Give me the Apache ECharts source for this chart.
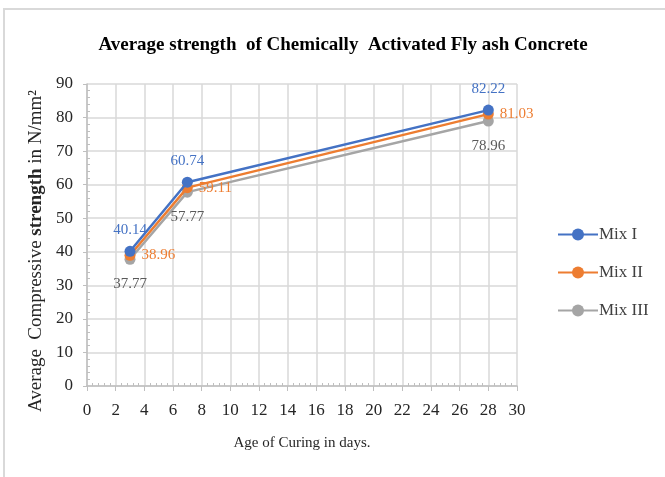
<!DOCTYPE html>
<html><head><meta charset="utf-8">
<script src="https://cdn.jsdelivr.net/npm/echarts@6/dist/echarts.min.js"></script>
<style>html,body{margin:0;padding:0;background:#fff}#c{width:665px;height:477px}</style>
</head><body><div id="c"></div>
<script>
const days = [3, 7, 28];
const mix1 = [40.14, 60.74, 82.22];
const mix2 = [38.96, 59.11, 81.03];
const mix3 = [37.77, 57.77, 78.96];
const seriesNames = ['Mix I', 'Mix II', 'Mix III'];
const colors = ['#4472C4', '#ED7D31', '#A5A5A5'];

const F = '"Liberation Serif", "Times New Roman", serif';
const chart = echarts.init(document.getElementById('c'));
function pts(v){ return days.map((d,i)=>[d, v[i]]); }
const labelPos = ['top', 'right', 'bottom'];
const labelDist = [8, 6, 12];
const labelColors = ['#4472C4', '#ED7D31', '#595959'];
chart.setOption({
  animation: false,
  graphic: [
    {type:'line', shape:{x1:3,y1:9,x2:665,y2:9}, style:{stroke:'#d9d9d9', lineWidth:2}},
    {type:'line', shape:{x1:4,y1:9,x2:4,y2:477}, style:{stroke:'#d9d9d9', lineWidth:2}}
  ],
  title: {
    text: 'Average strength  of Chemically  Activated Fly ash Concrete',
    left: 338, top: 31, textAlign: 'center',
    textStyle: {fontFamily: F, fontWeight: 'bold', fontSize: 19, color: '#000'}
  },
  legend: {
    orient: 'vertical', left: 557, top: 226, padding: 0, itemGap: 21, itemWidth: 40, itemHeight: 15,
    textStyle: {fontFamily: F, fontSize: 17, color: '#404040', padding:[0,0,0,-4]},
    data: seriesNames
  },
  grid: {left: 87, right: 148, top: 84, bottom: 91},
  xAxis: {
    type: 'value', min: 0, max: 30, interval: 2,
    name: 'Age of Curing in days.', nameLocation: 'middle', nameGap: 50,
    nameTextStyle: {fontFamily: F, fontSize: 15, color: '#262626'},
    axisLine: {show: true, lineStyle: {color: '#bfbfbf', width: 1.5}},
    axisTick: {show: true, length: 5, lineStyle: {color: '#bfbfbf'}},
    minorTick: {show: true, splitNumber: 5, length: -3, lineStyle: {color: '#bfbfbf'}},
    splitLine: {show: true, lineStyle: {color: '#d9d9d9', width: 1.5}},
    axisLabel: {fontFamily: F, fontSize: 17, color: '#262626', margin: 16}
  },
  yAxis: {
    type: 'value', min: 0, max: 90, interval: 10,
    name: '{n|Average  Compressive }{b|strength}{n| in N/mm²}', nameLocation: 'middle', nameGap: 37,
    nameTextStyle: {padding: [0, 32, 0, 0], rich: {
      n: {fontFamily: F, fontSize: 19, color: '#262626'},
      b: {fontFamily: F, fontSize: 19, fontWeight: 'bold', color: '#262626'}
    }},
    axisLine: {show: true, lineStyle: {color: '#bfbfbf', width: 1.5}},
    axisTick: {show: true, length: 4, lineStyle: {color: '#bfbfbf'}},
    minorTick: {show: true, splitNumber: 5, length: -3, lineStyle: {color: '#bfbfbf'}},
    splitLine: {show: true, lineStyle: {color: '#d9d9d9', width: 1.5}},
    axisLabel: {fontFamily: F, fontSize: 17, color: '#262626', margin: 14}
  },
  series: [mix1, mix2, mix3].map((v,i)=>({
    name: seriesNames[i], type: 'line', data: pts(v),
    symbol: 'circle', symbolSize: 11, z: 3 - i,
    color: colors[i],
    lineStyle: {color: colors[i], width: 2.5},
    itemStyle: {color: colors[i]},
    label: {show: true, position: labelPos[i], distance: labelDist[i],
      fontFamily: F, fontSize: 15, color: labelColors[i],
      formatter: p => p.value[1].toFixed(2)}
  }))
});
</script></body></html>
